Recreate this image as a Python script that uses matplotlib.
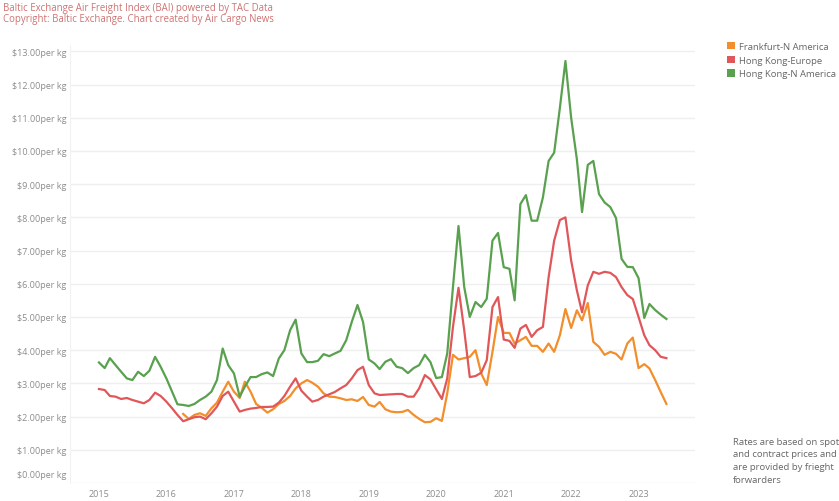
import matplotlib
matplotlib.use("Agg")
import matplotlib.pyplot as plt
import matplotlib.dates as mdates
from matplotlib.patches import Patch
from matplotlib.ticker import FuncFormatter
import numpy as np
import pandas as pd

# Monthly BAI rates, USD per kg
months = pd.date_range("2015-01-01", periods=102, freq="MS")
frankfurt_start = "2016-04-01"

hk_n_america = [
    3.63, 3.46, 3.76, 3.55, 3.35, 3.15, 3.10, 3.35, 3.22, 3.38, 3.80, 3.50,
    3.15, 2.75, 2.37, 2.35, 2.32, 2.38, 2.50, 2.60, 2.75, 3.10, 4.05, 3.55,
    3.30, 2.60, 2.90, 3.19, 3.19, 3.28, 3.33, 3.22, 3.75, 4.00, 4.60, 4.92,
    3.90, 3.64, 3.64, 3.68, 3.88, 3.82, 3.90, 3.98, 4.30, 4.85, 5.36, 4.85,
    3.72, 3.60, 3.43, 3.65, 3.73, 3.50, 3.46, 3.31, 3.46, 3.55, 3.86, 3.64,
    3.16, 3.19, 3.90, 5.90, 7.74, 5.90, 5.00, 5.45, 5.30, 5.55, 7.30, 7.53,
    6.50, 6.45, 5.50, 8.40, 8.67, 7.90, 7.90, 8.60, 9.70, 9.95, 11.30, 12.71,
    11.00, 9.75, 8.16, 9.58, 9.70, 8.70, 8.45, 8.31, 7.98, 6.75, 6.51, 6.50,
    6.17, 4.97, 5.39, 5.21, 5.07, 4.94,
]

hk_europe = [
    2.83, 2.80, 2.62, 2.60, 2.53, 2.56, 2.50, 2.45, 2.40, 2.50, 2.72, 2.62,
    2.45, 2.25, 2.05, 1.86, 1.92, 1.98, 2.00, 1.92, 2.10, 2.30, 2.62, 2.75,
    2.45, 2.15, 2.20, 2.24, 2.26, 2.29, 2.29, 2.30, 2.42, 2.62, 2.90, 3.15,
    2.78, 2.60, 2.45, 2.50, 2.60, 2.67, 2.74, 2.85, 2.95, 3.15, 3.40, 3.50,
    2.95, 2.70, 2.65, 2.66, 2.67, 2.68, 2.68, 2.60, 2.60, 2.85, 3.25, 3.12,
    2.82, 2.53, 3.15, 4.70, 5.88, 4.60, 3.19, 3.22, 3.32, 3.70, 5.30, 5.60,
    4.32, 4.28, 4.07, 4.65, 4.76, 4.40, 4.60, 4.70, 6.20, 7.30, 7.92, 8.00,
    6.70, 5.80, 5.14, 5.95, 6.36, 6.30, 6.36, 6.33, 6.20, 5.90, 5.66, 5.54,
    5.00, 4.45, 4.15, 4.00, 3.80, 3.76,
]

frankfurt_n_america = [
    2.08, 1.93, 2.05, 2.10, 2.02, 2.25, 2.42, 2.75, 3.05,
    2.75, 2.56, 3.05, 2.75, 2.38, 2.26, 2.12, 2.22, 2.38, 2.47, 2.62, 2.85,
    3.00, 3.10, 3.02, 2.90, 2.70, 2.60, 2.59, 2.55, 2.50, 2.52, 2.47, 2.59,
    2.35, 2.30, 2.44, 2.22, 2.15, 2.13, 2.14, 2.20, 2.05, 1.93, 1.83, 1.84,
    1.95, 1.87, 2.70, 3.86, 3.72, 3.76, 3.80, 4.00, 3.30, 2.95, 3.95, 5.00,
    4.52, 4.52, 4.20, 4.30, 4.40, 4.13, 4.13, 3.95, 4.20, 3.95, 4.45, 5.24,
    4.67, 5.20, 4.90, 5.42, 4.25, 4.10, 3.86, 3.95, 3.89, 3.72, 4.20, 4.38,
    3.46, 3.58, 3.45, 3.10, 2.74, 2.38,
]
frankfurt_months = pd.date_range(frankfurt_start, periods=len(frankfurt_n_america), freq="MS")

series = [
    ("Frankfurt-N America", frankfurt_months, frankfurt_n_america, "#f28e2b"),
    ("Hong Kong-Europe", months, hk_europe, "#e15759"),
    ("Hong Kong-N America", months, hk_n_america, "#59a14f"),
]

plt.rcParams["font.family"] = ["Open Sans", "DejaVu Sans"]

fig = plt.figure(figsize=(8.39, 5.02), dpi=100)
ax = fig.add_axes([0.0834, 0.0359, 0.7446, 0.873])

for name, x, y, color in series:
    ax.plot(x, y, color=color, linewidth=1.6, solid_joinstyle="round")

ax.set_ylim(0, 13.2)
ax.set_xlim(pd.Timestamp("2014-07-28"), pd.Timestamp("2023-11-01"))
ax.set_yticks(np.arange(0, 14, 1))
ax.yaxis.set_major_formatter(FuncFormatter(lambda v, p: "" if v == 0 else f"${v:.2f}per kg"))
ax.annotate("$0.00per kg", xy=(0, 0), xycoords=("axes fraction", "data"),
            xytext=(-2.5, 6), textcoords="offset points", ha="right", va="center",
            fontsize=6.5, color="#8c8c8c")
ax.xaxis.set_major_locator(mdates.YearLocator())
ax.xaxis.set_major_formatter(mdates.DateFormatter("%Y"))

ax.grid(axis="y", color="#efefef", linewidth=1)
ax.set_axisbelow(True)
for side in ["top", "right", "bottom"]:
    ax.spines[side].set_visible(False)
ax.spines["left"].set_color("#f2f2f2")
ax.tick_params(axis="both", length=0, labelsize=6.5, labelcolor="#8c8c8c")
ax.tick_params(axis="y", pad=2.5)
ax.tick_params(axis="x", pad=4)

fig.text(0.004, 0.984, "Baltic Exchange Air Freight Index (BAI) powered by TAC Data",
         fontsize=6.9, color="#cf7272", va="center", ha="left")
fig.text(0.004, 0.962, "Copyright: Baltic Exchange. Chart created by Air Cargo News",
         fontsize=6.9, color="#cf7272", va="center", ha="left")

handles = [Patch(facecolor=c, edgecolor="none") for _, _, _, c in series]
fig.legend(handles, [s[0] for s in series], loc="upper left",
           bbox_to_anchor=(0.862, 0.922), frameon=False, fontsize=6.8,
           handlelength=0.85, handleheight=0.85, handletextpad=0.45,
           labelspacing=0.5, borderaxespad=0, labelcolor="#666666")

note = "Rates are based on spot\nand contract prices and\nare provided by frieght\nforwarders"
fig.text(0.874, 0.081, note, fontsize=6.8, color="#666666", va="center",
         ha="left", linespacing=1.55)

fig.savefig("out.png", dpi=100)
